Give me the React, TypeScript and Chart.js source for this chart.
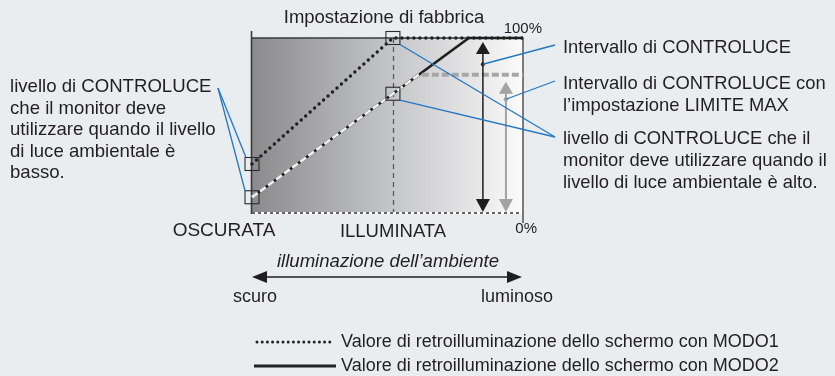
import React, { useEffect, useRef } from "react";
import { Chart, registerables } from "chart.js";
Chart.register(...registerables);

// ambient illumination (0 = dark, 100 = bright) vs backlight (%)
const modo1X = [0, 52, 100];
const modo1Y = [28, 100, 100];
const modo2X = [0, 80, 100];
const modo2Y = [9, 100, 100];
const limitX = [0, 61.5, 100];
const limitY = [9, 79, 79];
const factoryX = 52;
const rangeArrowX = 85.2;
const rangeDotY = 85;
const limitArrowX = 93.7;
const limitDotY = 65;
const limitArrowTop = 75;

const FONT = '"Liberation Sans", Arial, sans-serif';
const TXT = "#231f20";
const BLUE = "#2277c4";

const toPts = (xs: number[], ys: number[]) => xs.map((v, i) => ({ x: v, y: ys[i] }));

function tri(ctx: CanvasRenderingContext2D, x: number, y: number, dir: number, w: number, h: number) {
  ctx.beginPath();
  ctx.moveTo(x, y);
  ctx.lineTo(x - w / 2, y - dir * h);
  ctx.lineTo(x + w / 2, y - dir * h);
  ctx.closePath();
  ctx.fill();
}

const diagram = {
  id: "diagram",
  beforeDatasetsDraw(chart: any) {
    const { ctx, chartArea: a, scales } = chart;
    const xs = scales.x;
    ctx.save();
    const g = ctx.createLinearGradient(a.left, 0, a.right, 0);
    g.addColorStop(0, "#8b8b8d");
    g.addColorStop(0.5, "#c3c4c6");
    g.addColorStop(0.82, "#e6e6e7");
    g.addColorStop(1, "#fbfbfb");
    ctx.fillStyle = g;
    ctx.fillRect(a.left, a.top, a.right - a.left, a.bottom - a.top);
    const fx = Math.round(xs.getPixelForValue(factoryX)) + 0.5;
    ctx.strokeStyle = "#5a5a5a";
    ctx.lineWidth = 1.3;
    ctx.setLineDash([5, 4]);
    ctx.beginPath();
    ctx.moveTo(fx, a.top);
    ctx.lineTo(fx, a.bottom);
    ctx.stroke();
    ctx.setLineDash([]);
    ctx.strokeStyle = "#3a3a3a";
    ctx.lineWidth = 1.5;
    ctx.beginPath();
    ctx.moveTo(a.left, a.top);
    ctx.lineTo(a.right, a.top);
    ctx.stroke();
    ctx.lineWidth = 1.6;
    ctx.beginPath();
    ctx.moveTo(a.left - 0.5, a.top - 7);
    ctx.lineTo(a.left - 0.5, a.bottom + 1);
    ctx.stroke();
    ctx.lineWidth = 1.3;
    ctx.beginPath();
    ctx.moveTo(a.right, a.top);
    ctx.lineTo(a.right, a.bottom + 10);
    ctx.stroke();
    ctx.strokeStyle = "#ffffff";
    ctx.lineWidth = 2;
    ctx.beginPath();
    ctx.moveTo(a.left, a.bottom);
    ctx.lineTo(a.right, a.bottom);
    ctx.stroke();
    ctx.strokeStyle = "#333";
    ctx.lineWidth = 1.5;
    ctx.setLineDash([3, 3]);
    ctx.beginPath();
    ctx.moveTo(a.left, a.bottom);
    ctx.lineTo(a.right, a.bottom);
    ctx.stroke();
    ctx.restore();
  },
  afterDatasetsDraw(chart: any) {
    const { ctx, chartArea: a, scales } = chart;
    const xs = scales.x, ys = scales.y;
    const px = (v: number) => xs.getPixelForValue(v);
    const py = (v: number) => ys.getPixelForValue(v);
    ctx.save();
    const bx = px(rangeArrowX);
    ctx.strokeStyle = "#1e1e1e";
    ctx.fillStyle = "#1e1e1e";
    ctx.lineWidth = 1.5;
    ctx.beginPath();
    ctx.moveTo(bx, py(100) + 8);
    ctx.lineTo(bx, py(0) - 8);
    ctx.stroke();
    tri(ctx, bx, py(100) + 4, -1, 14, 12);
    tri(ctx, bx, py(0) - 1, 1, 14, 13);
    ctx.beginPath();
    ctx.arc(bx, py(rangeDotY), 2, 0, Math.PI * 2);
    ctx.fill();
    const gx = px(limitArrowX);
    ctx.strokeStyle = "#a3a3a3";
    ctx.fillStyle = "#a3a3a3";
    ctx.lineWidth = 2;
    ctx.beginPath();
    ctx.moveTo(gx, py(limitArrowTop) + 8);
    ctx.lineTo(gx, py(0) - 8);
    ctx.stroke();
    tri(ctx, gx, py(limitArrowTop), -1, 14, 12);
    tri(ctx, gx, py(0) - 1, 1, 14, 13);
    ctx.beginPath();
    ctx.arc(gx, py(limitDotY), 2.2, 0, Math.PI * 2);
    ctx.fill();

    const modo2At = (xv: number) => {
      for (let i = 0; i < modo2X.length - 1; i++) {
        if (xv >= modo2X[i] && xv <= modo2X[i + 1]) {
          const t = (xv - modo2X[i]) / (modo2X[i + 1] - modo2X[i]);
          return modo2Y[i] + t * (modo2Y[i + 1] - modo2Y[i]);
        }
      }
      return modo2Y[modo2Y.length - 1];
    };
    const boxes = [
      [px(modo1X[0]), py(modo1Y[0])],
      [px(modo2X[0]), py(modo2Y[0])],
      [px(factoryX), py(100)],
      [px(factoryX), py(modo2At(factoryX))],
    ];
    ctx.strokeStyle = "#2b2b2b";
    ctx.lineWidth = 1.1;
    boxes.forEach(([cx, cy]) => ctx.strokeRect(cx - 7, cy - 6.5, 14, 13));

    ctx.strokeStyle = BLUE;
    ctx.lineWidth = 1.3;
    const line = (x1: number, y1: number, x2: number, y2: number) => {
      ctx.beginPath();
      ctx.moveTo(x1, y1);
      ctx.lineTo(x2, y2);
      ctx.stroke();
    };
    line(bx, py(rangeDotY), 555, 45);
    line(gx, py(limitDotY), 555, 81);
    line(boxes[2][0] + 7, boxes[2][1] + 6.5, 555, 137);
    line(boxes[3][0] + 7, boxes[3][1] + 6.5, 555, 137);
    line(218, 88, boxes[0][0] - 6, boxes[0][1] - 6.5);
    line(218, 88, boxes[1][0] - 7, boxes[1][1] - 6.5);

    ctx.fillStyle = TXT;
    ctx.textBaseline = "alphabetic";
    ctx.font = `18.5px ${FONT}`;
    ctx.textAlign = "center";
    ctx.fillText("Impostazione di fabbrica", 384, 23);
    ctx.font = `15px ${FONT}`;
    ctx.textAlign = "right";
    ctx.fillText("100%", 542, 33);
    ctx.fillText("0%", 537, 233);
    ctx.font = `19px ${FONT}`;
    ctx.textAlign = "center";
    ctx.fillText("OSCURATA", 224, 236);
    ctx.font = `18.5px ${FONT}`;
    ctx.fillText("ILLUMINATA", 393, 237);
    ctx.font = `italic 18.6px ${FONT}`;
    ctx.fillText("illuminazione dell\u2019ambiente", 388, 267);
    ctx.font = `18px ${FONT}`;
    ctx.fillText("scuro", 255, 302);
    ctx.fillText("luminoso", 517, 302);

    ctx.strokeStyle = "#1e1e1e";
    ctx.fillStyle = "#1e1e1e";
    ctx.lineWidth = 1.5;
    line(a.left + 10, 277, a.right - 10, 277);
    ctx.beginPath();
    ctx.moveTo(a.left, 277);
    ctx.lineTo(a.left + 15, 271);
    ctx.lineTo(a.left + 15, 283);
    ctx.closePath();
    ctx.fill();
    ctx.beginPath();
    ctx.moveTo(a.right - 1, 277);
    ctx.lineTo(a.right - 16, 271);
    ctx.lineTo(a.right - 16, 283);
    ctx.closePath();
    ctx.fill();

    ctx.fillStyle = TXT;
    ctx.textAlign = "left";
    ctx.font = `18.4px ${FONT}`;
    const right = [
      ["Intervallo di CONTROLUCE", 53],
      ["Intervallo di CONTROLUCE con", 89],
      ["l\u2019impostazione LIMITE MAX", 111],
      ["livello di CONTROLUCE che il", 144],
      ["monitor deve utilizzare quando il", 166],
      ["livello di luce ambientale \u00e8 alto.", 188],
    ];
    right.forEach(([t, yy]) => ctx.fillText(t as string, 563, yy as number));
    ctx.font = `18.6px ${FONT}`;
    const left = [
      "livello di CONTROLUCE",
      "che il monitor deve",
      "utilizzare quando il livello",
      "di luce ambientale \u00e8",
      "basso.",
    ];
    left.forEach((t, i) => ctx.fillText(t, 10, 92 + 21.6 * i));

    ctx.strokeStyle = "#222";
    ctx.lineWidth = 3;
    ctx.lineCap = "round";
    ctx.setLineDash([0, 5.2]);
    line(257, 342, 333, 342);
    ctx.setLineDash([]);
    ctx.lineCap = "butt";
    line(254, 366, 336, 366);
    ctx.font = `18px ${FONT}`;
    ctx.fillText("Valore di retroilluminazione dello schermo con MODO1", 341, 347);
    ctx.fillText("Valore di retroilluminazione dello schermo con MODO2", 341, 371);
    ctx.restore();
  },
};

export default function App() {
  const ref = useRef<HTMLCanvasElement | null>(null);
  useEffect(() => {
    if (!ref.current) return;
    const chart = new Chart(ref.current, {
      type: "line",
      data: {
        datasets: [
          {
            label: "MODO1",
            data: toPts(modo1X, modo1Y),
            borderColor: "#1e1e1e",
            borderWidth: 3.4,
            borderDash: [0, 6],
            borderCapStyle: "round",
            pointRadius: 0,
            tension: 0,
            clip: false,
            order: 1,
          } as any,
          {
            label: "LIMITE MAX (fill)",
            data: toPts(limitX, limitY),
            borderColor: "#f4f4f4",
            borderWidth: 2,
            borderDash: [7, 3],
            pointRadius: 0,
            clip: false,
            segment: {
              borderColor: (c: any) => (c.p0DataIndex === 0 ? "#f6f6f6" : "rgba(0,0,0,0)"),
            },
            order: 2,
          } as any,
          {
            label: "LIMITE MAX",
            data: toPts(limitX, limitY),
            borderColor: "#a7a7a7",
            borderWidth: 3.8,
            borderDash: [7, 3],
            pointRadius: 0,
            clip: false,
            order: 3,
          } as any,
          {
            label: "MODO2",
            data: toPts(modo2X, modo2Y),
            borderColor: "#1e1e1e",
            borderWidth: 2.6,
            pointRadius: 0,
            tension: 0,
            clip: false,
            order: 4,
          } as any,
        ],
      },
      options: {
        animation: false,
        responsive: false,
        events: [],
        layout: { padding: { left: 252, right: 312, top: 38, bottom: 163 } },
        plugins: { legend: { display: false }, tooltip: { enabled: false }, title: { display: false } },
        scales: {
          x: { type: "linear", min: 0, max: 100, display: false },
          y: { type: "linear", min: 0, max: 100, display: false },
        },
      },
      plugins: [diagram],
    });
    return () => chart.destroy();
  }, []);
  return (
    <div style={{ position: "absolute", left: 0, top: 0, width: 835, height: 376, background: "#e9edf0" }}>
      <canvas ref={ref} width={835} height={376} style={{ display: "block" }} />
    </div>
  );
}
